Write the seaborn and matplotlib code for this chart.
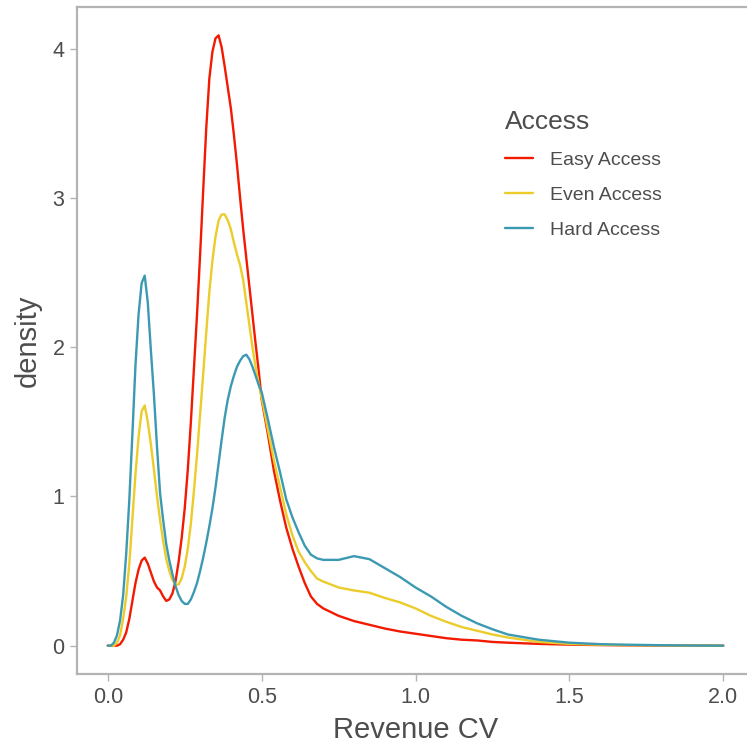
import pandas as pd
import matplotlib.pyplot as plt
import seaborn as sns

# density curves
revenue_cv = [0.00, 0.01, 0.02, 0.03, 0.04, 0.05, 0.06, 0.07, 0.08, 0.09,
              0.10, 0.11, 0.12, 0.13, 0.14, 0.15, 0.16, 0.17, 0.18, 0.19,
              0.20, 0.21, 0.22, 0.23, 0.24, 0.25, 0.26, 0.27, 0.28, 0.29,
              0.30, 0.31, 0.32, 0.33, 0.34, 0.35, 0.36, 0.37, 0.38, 0.39,
              0.40, 0.41, 0.42, 0.43, 0.44, 0.45, 0.46, 0.47, 0.48, 0.49,
              0.50, 0.52, 0.54, 0.56, 0.58, 0.60, 0.62, 0.64, 0.66, 0.68,
              0.70, 0.75, 0.80, 0.85, 0.90, 0.95, 1.00, 1.05, 1.10, 1.15,
              1.20, 1.25, 1.30, 1.40, 1.50, 1.60, 1.70, 1.80, 1.90, 2.00]

easy_access = [0.0, 0.0, 0.0, 0.0, 0.01, 0.04, 0.09, 0.18, 0.30, 0.42,
               0.51, 0.57, 0.59, 0.55, 0.49, 0.43, 0.39, 0.37, 0.33, 0.30,
               0.31, 0.35, 0.43, 0.56, 0.72, 0.92, 1.18, 1.50, 1.86, 2.22,
               2.62, 3.05, 3.47, 3.80, 3.98, 4.07, 4.09, 4.01, 3.88, 3.74,
               3.60, 3.42, 3.22, 3.00, 2.79, 2.60, 2.41, 2.22, 2.03, 1.85,
               1.65, 1.42, 1.17, 0.97, 0.79, 0.65, 0.53, 0.42, 0.33, 0.28,
               0.25, 0.20, 0.165, 0.14, 0.115, 0.095, 0.08, 0.065, 0.05, 0.04,
               0.035, 0.025, 0.02, 0.012, 0.007, 0.004, 0.002, 0.001, 0.001, 0.0]

even_access = [0.0, 0.0, 0.0, 0.02, 0.07, 0.18, 0.33, 0.55, 0.85, 1.15,
               1.40, 1.57, 1.61, 1.50, 1.35, 1.18, 1.00, 0.84, 0.70, 0.58,
               0.50, 0.44, 0.41, 0.41, 0.45, 0.53, 0.65, 0.82, 1.04, 1.28,
               1.55, 1.82, 2.10, 2.37, 2.58, 2.74, 2.85, 2.89, 2.89, 2.85,
               2.79, 2.70, 2.62, 2.55, 2.45, 2.30, 2.15, 2.00, 1.87, 1.76,
               1.66, 1.45, 1.24, 1.06, 0.88, 0.74, 0.63, 0.56, 0.50, 0.45,
               0.43, 0.39, 0.37, 0.355, 0.32, 0.29, 0.25, 0.20, 0.16, 0.125,
               0.10, 0.075, 0.055, 0.025, 0.012, 0.006, 0.003, 0.002, 0.001, 0.0]

hard_access = [0.0, 0.0, 0.02, 0.07, 0.17, 0.34, 0.62, 0.98, 1.42, 1.88,
               2.22, 2.43, 2.48, 2.30, 1.98, 1.68, 1.33, 1.02, 0.84, 0.68,
               0.57, 0.48, 0.40, 0.34, 0.30, 0.28, 0.28, 0.31, 0.36, 0.42,
               0.50, 0.59, 0.69, 0.80, 0.92, 1.06, 1.22, 1.38, 1.53, 1.65,
               1.74, 1.81, 1.87, 1.91, 1.94, 1.95, 1.92, 1.87, 1.81, 1.75,
               1.70, 1.52, 1.33, 1.16, 0.98, 0.86, 0.76, 0.67, 0.61, 0.585,
               0.575, 0.575, 0.60, 0.58, 0.52, 0.46, 0.39, 0.33, 0.26, 0.20,
               0.15, 0.11, 0.075, 0.04, 0.02, 0.01, 0.006, 0.003, 0.001, 0.0]

groups = ['Easy Access', 'Even Access', 'Hard Access']
colors = ['#F21A00', '#EBCC2A', '#3B9AB2']

df = pd.concat([
    pd.DataFrame({'cv': revenue_cv, 'density': vals, 'Access': name})
    for name, vals in zip(groups, [easy_access, even_access, hard_access])
])

sns.set_style('white')
plt.rcParams['font.family'] = ['Liberation Sans', 'DejaVu Sans']

fig = plt.figure(figsize=(7.47, 7.48), dpi=100)
ax = fig.add_axes([0.1031, 0.0989, 0.9063, 0.8917])

sns.lineplot(data=df, x='cv', y='density', hue='Access', hue_order=groups,
             palette=colors, errorbar=None, linewidth=1.7, ax=ax)

ax.set_xlim(-0.1, 2.1)
ax.set_ylim(-0.19, 4.28)
ax.set_xticks([0.0, 0.5, 1.0, 1.5, 2.0])
ax.set_xticklabels(['0.0', '0.5', '1.0', '1.5', '2.0'])
ax.set_yticks([0, 1, 2, 3, 4])

for s in ax.spines.values():
    s.set_color('#B3B3B3')
    s.set_linewidth(1.6)

ax.tick_params(axis='both', length=5, width=1, color='#B3B3B3',
               labelcolor='#4D4D4D', labelsize=15.5, pad=4,
               bottom=True, left=True)
ax.set_xlabel('Revenue CV', fontsize=21, color='#4D4D4D', labelpad=6)
ax.set_ylabel('density', fontsize=21, color='#4D4D4D', labelpad=8)

leg = ax.legend(title='Access', frameon=False, loc='upper left',
                bbox_to_anchor=(0.665, 0.864), bbox_transform=fig.transFigure,
                fontsize=14, title_fontsize=19, handlelength=1.45,
                handletextpad=0.87, labelspacing=0.9, borderaxespad=0)
leg._legend_box.align = 'left'
for t in leg.get_texts():
    t.set_color('#4D4D4D')
leg.get_title().set_color('#4D4D4D')

fig.savefig('out.png', dpi=100)
